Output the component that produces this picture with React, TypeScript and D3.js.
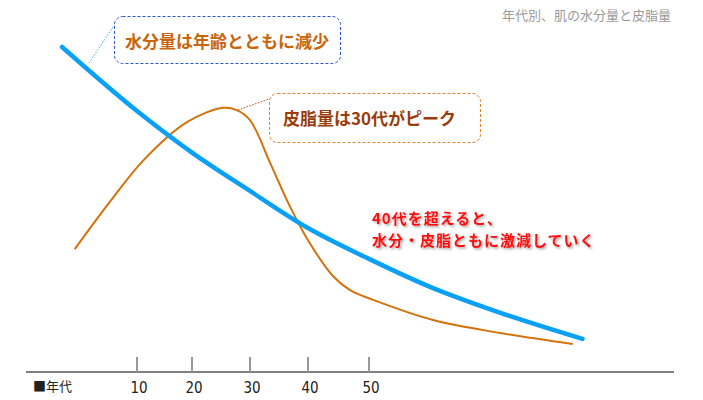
import * as d3 from 'd3';

// 年代 (x) と相対量 (y, 0-100)
const waterAges = [0, 10, 20, 30, 40, 50, 60, 70, 85];
const waterValues = [100, 80.3, 67.5, 55.7, 44.3, 34.8, 26.2, 19.2, 10.2];

const sebumAges = [1.7, 6.4, 11.2, 19, 25.4, 27.7, 30, 33.5, 36.9, 40.3, 44.2, 46.9, 50.7, 60.5, 71.5, 83.4];
const sebumValues = [37.8, 52.4, 65.2, 76.8, 81.3, 80.6, 77.5, 64.2, 50.9, 39.6, 29.3, 25.2, 22.2, 16, 12, 8.6];

const tickLabels = [10, 20, 30, 40, 50];

const title = '年代別、肌の水分量と皮脂量';
const axisLabel = '■年代';
const noteWater = '水分量は年齢とともに減少';
const noteSebum = '皮脂量は30代がピーク';
const noteDrop = ['40代を超えると、', '水分・皮脂ともに激減していく'];

const W = 703;
const H = 400;
const FONT = '"Noto Sans CJK JP", "Noto Sans", sans-serif';
const NARROW = '"Liberation Sans Narrow", "DejaVu Sans Condensed", sans-serif';

export default function App() {
  const x = d3.scaleLinear()
    .domain([0, 10, 20, 30, 40, 50])
    .range([62, 137, 192, 250, 308, 369]);
  const y = d3.scaleLinear().domain([0, 100]).range([372, 47]);

  const waterLine = d3.line<[number, number]>()
    .x((d) => x(d[0]))
    .y((d) => y(d[1]))
    .curve(d3.curveMonotoneX);

  const sebumLine = d3.line<[number, number]>()
    .x((d) => x(d[0]))
    .y((d) => y(d[1]))
    .curve(d3.curveCatmullRom.alpha(0.5));

  const waterPath = waterLine(waterAges.map((a, i) => [a, waterValues[i]]) as [number, number][]) || '';
  const sebumPath = sebumLine(sebumAges.map((a, i) => [a, sebumValues[i]]) as [number, number][]) || '';

  const baseY = y(0);

  return (
    <svg width={W} height={H} style={{ display: 'block', position: 'absolute', left: 0, top: 0, background: '#fff' }}>
      <defs>
        <filter id="shadow" x="-5%" y="-20%" width="110%" height="150%">
          <feDropShadow dx="1.5" dy="1.5" stdDeviation="1" floodColor="#555" floodOpacity="0.55" />
        </filter>
      </defs>

      {/* title */}
      <text x={671} y={20} textAnchor="end" fontFamily={FONT} fontSize={13} fill="#9a9a9a">{title}</text>

      {/* axis */}
      <line x1={26} x2={674} y1={baseY} y2={baseY} stroke="#555" strokeWidth={1.5} />
      {tickLabels.map((t) => (
        <g key={t}>
          <line x1={x(t)} x2={x(t)} y1={357} y2={baseY} stroke="#999" strokeWidth={2} />
          <text x={x(t) + 2} y={393} textAnchor="middle" fontFamily={NARROW} fontSize={15} fill="#222">{t}</text>
        </g>
      ))}
      <text x={33} y={391} fontFamily={FONT} fontSize={13} fill="#222">{axisLabel}</text>

      {/* curves */}
      <path d={sebumPath} fill="none" stroke="#d4710b" strokeWidth={2} />
      <path d={waterPath} fill="none" stroke="#0aa0f5" strokeWidth={4.5} strokeLinecap="round" />

      {/* note: water */}
      <line x1={89} y1={63} x2={115} y2={24} stroke="#38b4ec" strokeWidth={1} strokeDasharray="1.5 1.5" />
      <rect x={114.5} y={16.5} width={226} height={47} rx={8} fill="#fff" stroke="#2c55cc" strokeWidth={1} strokeDasharray="3 2" />
      <text x={125} y={48} fontFamily={FONT} fontSize={17} fontWeight={700} fill="#c8650d">{noteWater}</text>

      {/* note: sebum */}
      <line x1={238} y1={110} x2={269} y2={99} stroke="#a8501e" strokeWidth={1} strokeDasharray="1.5 1.5" />
      <rect x={269.5} y={93.5} width={211} height={49} rx={8} fill="#fff" stroke="#e0822e" strokeWidth={1} strokeDasharray="3 2" />
      <text x={283} y={125} fontFamily={FONT} fontSize={17} fontWeight={700} fill="#9a3c0c">{noteSebum}</text>

      {/* note: drop */}
      <g filter="url(#shadow)" fontFamily={FONT} fontSize={15} fontWeight={700} letterSpacing={1} fill="#ff0a0a">
        <text x={372} y={224}>{noteDrop[0]}</text>
        <text x={372} y={246}>{noteDrop[1]}</text>
      </g>
    </svg>
  );
}
